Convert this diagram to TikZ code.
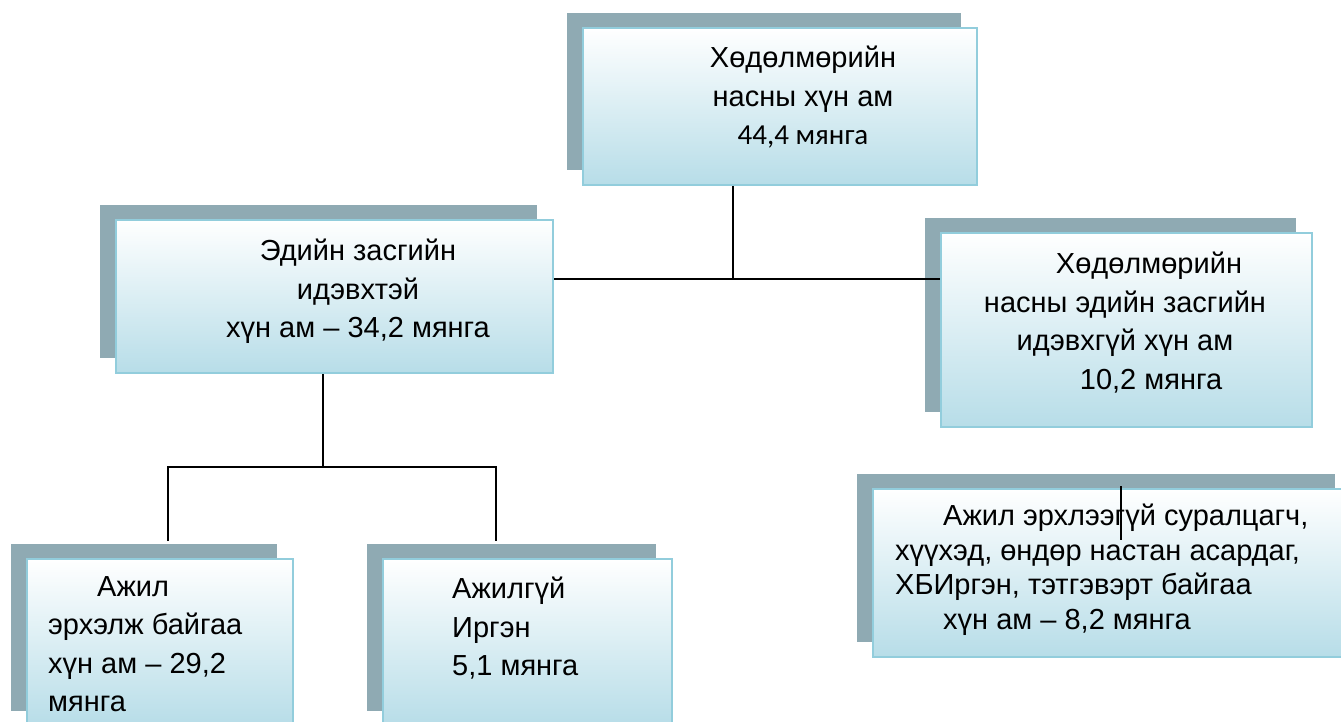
\documentclass[tikz,border=0pt]{standalone}
\usepackage{fontspec}
\setmainfont{Liberation Sans}
\newfontfamily\calibrifont{Carlito}
\usetikzlibrary{positioning, shadows}
\definecolor{shadowgray}{HTML}{8FAAB3}
\definecolor{boxedge}{HTML}{92CDDC}
\definecolor{boxfill}{HTML}{B7DDE8}

\begin{document}
\begin{tikzpicture}[x=1pt, y=-1pt,
	box/.style={draw=boxedge, line width=2pt, top color=white, bottom color=boxfill,
		general shadow={fill=shadowgray, shadow xshift=-16pt, shadow yshift=15pt}},
	txt/.style={inner sep=0pt, font=\fontsize{29}{38.5}\selectfont},
	link/.style={line width=1.5pt}]
			\useasboundingbox (0,0) rectangle (1341,722);
			%Boxes
			\node[box, minimum width=394pt, minimum height=157pt] (total) at (780,106.5) {};
			\node[box, minimum width=437pt, minimum height=153pt] (active) at (334.5,296.5) {};
			\node[box, minimum width=371pt, minimum height=194pt] (inactive) at (1126.5,330) {};
			\node[box, minimum width=478pt, minimum height=168pt] (notworking) at (1112,573) {};
			\node[box, minimum width=266pt, minimum height=167pt] (employed) at (160,642.5) {};
			\node[box, minimum width=289pt, minimum height=167pt] (unemployed) at (527.5,642.5) {};
			%Texts
			\node[txt, anchor=north, align=center] (total-t) at (803,46)
				{Хөдөлмөрийн\\насны хүн ам\\{\calibrifont\fontsize{29}{38}\selectfont 44,4 мянга}};
			\node[txt, anchor=north, align=center] (active-t) at (358,239)
				{Эдийн засгийн\\идэвхтэй\\хүн ам – 34,2 мянга};
			\node[txt, anchor=north, align=center] (inactive-t) at (1125,252)
				{\hspace*{48pt}Хөдөлмөрийн\\насны эдийн засгийн\\идэвхгүй хүн ам\\\hspace*{52pt}10,2 мянга};
			\node[txt, anchor=north west, align=left, font=\fontsize{29}{34.5}\selectfont] (notworking-t) at (895,504)
				{\hspace*{48pt}Ажил эрхлээгүй суралцагч,\\хүүхэд, өндөр настан асардаг,\\ХБИргэн, тэтгэвэрт байгаа\\\hspace*{48pt}хүн ам – 8,2 мянга};
			\node[txt, anchor=north west, align=left] (employed-t) at (48,576)
				{\hspace*{49pt}Ажил\\эрхэлж байгаа\\хүн ам – 29,2\\мянга};
			\node[txt, anchor=north west, align=left] (unemployed-t) at (452,577)
				{Ажилгүй\\Иргэн\\5,1 мянга};
			%Links
			\coordinate (split) at (733,279);
			\coordinate (fork) at (323,467);
			\coordinate (employed-in) at (168,541);
			\coordinate (unemployed-in) at (496,541);
			\coordinate (mark-top) at (1121,486);
			\draw[link] (split |- total.south) -- (split);
			\draw[link] (active.east |- split) -- (inactive.west |- split);
			\draw[link] (fork |- active.south) -- (fork);
			\draw[link] (employed-in) |- (fork) -| (unemployed-in);
			\draw[link] (mark-top) -- ++(0,54);
		\end{tikzpicture}
\end{document}
